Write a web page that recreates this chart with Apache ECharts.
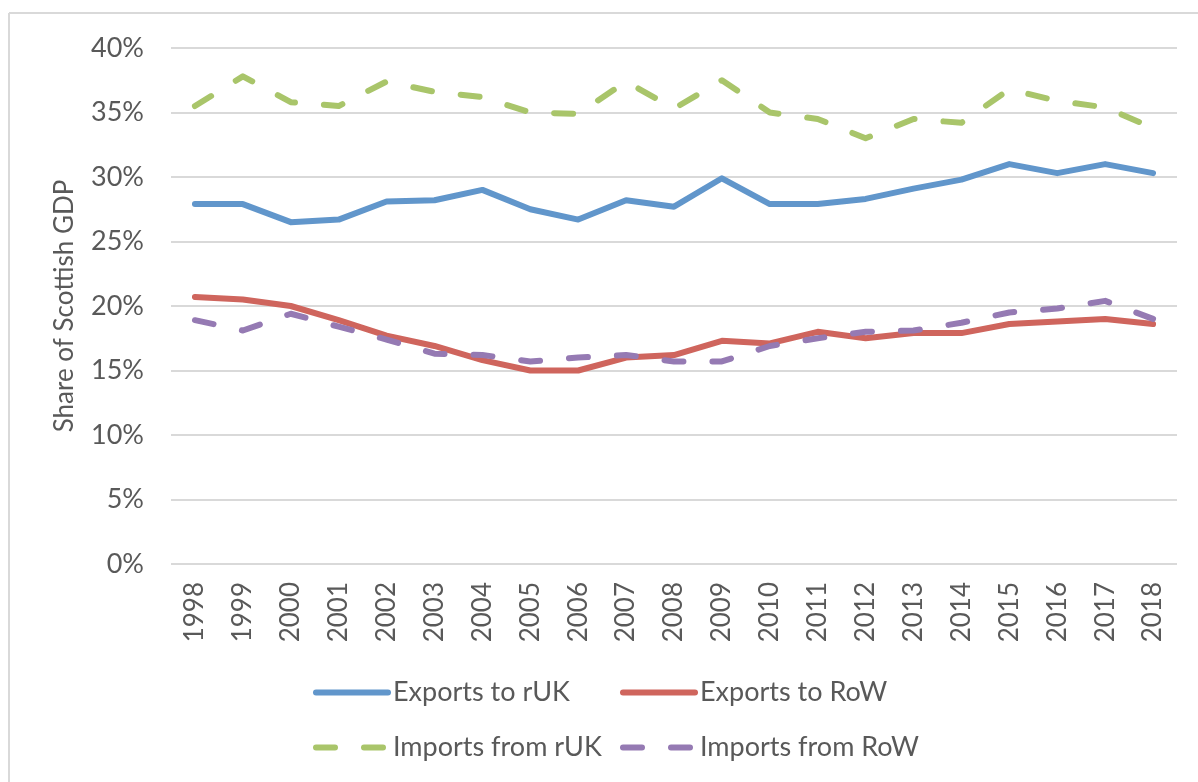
<!DOCTYPE html>
<html>
<head>
<meta charset="utf-8">
<script src="https://cdn.jsdelivr.net/npm/echarts@6/dist/echarts.min.js"></script>
<style>
html, body { margin: 0; padding: 0; background: #fff; }
#chart { width: 1198px; height: 782px; }
</style>
</head>
<body>
<div id="chart"></div>
<script>
var years = ['1998', '1999', '2000', '2001', '2002', '2003', '2004', '2005', '2006', '2007', '2008',
    '2009', '2010', '2011', '2012', '2013', '2014', '2015', '2016', '2017', '2018'];
var exportsRuk = [27.9, 27.9, 26.5, 26.7, 28.1, 28.2, 29.0, 27.5, 26.7, 28.2, 27.7,
    29.9, 27.9, 27.9, 28.3, 29.1, 29.8, 31.0, 30.3, 31.0, 30.3];
var exportsRow = [20.7, 20.5, 20.0, 18.9, 17.7, 16.9, 15.8, 15.0, 15.0, 16.0, 16.2,
    17.3, 17.1, 18.0, 17.5, 17.9, 17.9, 18.6, 18.8, 19.0, 18.6];
var importsRuk = [35.5, 37.8, 35.8, 35.5, 37.4, 36.6, 36.2, 35.0, 34.9, 37.4, 35.3,
    37.5, 35.0, 34.5, 33.0, 34.5, 34.2, 36.8, 35.9, 35.4, 33.8];
var importsRow = [18.9, 18.1, 19.4, 18.4, 17.4, 16.3, 16.2, 15.7, 16.0, 16.2, 15.7,
    15.7, 16.9, 17.5, 18.0, 18.1, 18.7, 19.5, 19.8, 20.4, 19.0];
var yTicks = [0, 5, 10, 15, 20, 25, 30, 35, 40];

var font = 'Lato';
var textColor = '#595959';

var myChart = echarts.init(document.getElementById('chart'));

function line(name, data, color, dashed) {
    return {
        name: name,
        type: 'line',
        data: data,
        symbol: 'none',
        smooth: false,
        lineStyle: {
            color: color,
            width: 6,
            cap: 'round',
            join: 'round',
            type: dashed ? [19, 29] : 'solid'
        },
        itemStyle: { color: color }
    };
}

function legendAt(name, left, top) {
    return {
        data: [name],
        left: left,
        top: top,
        itemWidth: 72,
        itemHeight: 6,
        itemGap: 0,
        padding: 0,
        itemStyle: { opacity: 0 },
        lineStyle: { width: 6, cap: 'round' },
        textStyle: { fontFamily: font, fontSize: 27, color: textColor, padding: [0, 0, 0, 0] }
    };
}

var option = {
    backgroundColor: '#fff',
    animation: false,
    graphic: [
        { type: 'line', shape: { x1: 9, y1: 13, x2: 1198, y2: 13 }, style: { stroke: '#d9d9d9', lineWidth: 2 } },
        { type: 'line', shape: { x1: 9, y1: 13, x2: 9, y2: 782 }, style: { stroke: '#d9d9d9', lineWidth: 2 } }
    ],
    grid: { left: 171, right: 21, top: 48, bottom: 218, containLabel: false },
    legend: [
        legendAt('Exports to rUK', 313, 679),
        legendAt('Exports to RoW', 620, 679),
        legendAt('Imports from rUK', 313, 734),
        legendAt('Imports from RoW', 620, 734)
    ],
    xAxis: {
        type: 'category',
        data: years,
        boundaryGap: true,
        axisLine: { show: false },
        axisTick: { show: false },
        axisLabel: {
            rotate: 90,
            margin: 18,
            interval: 0,
            fontFamily: font,
            fontSize: 26,
            color: textColor
        }
    },
    yAxis: {
        type: 'value',
        min: yTicks[0],
        max: yTicks[yTicks.length - 1],
        interval: 5,
        name: 'Share of Scottish GDP',
        nameLocation: 'middle',
        nameGap: 93,
        nameTextStyle: { fontFamily: font, fontSize: 26, color: textColor },
        axisLine: { show: false },
        axisTick: { show: false },
        axisLabel: {
            margin: 27,
            formatter: '{value}%',
            fontFamily: font,
            fontSize: 27,
            color: textColor
        },
        splitLine: { lineStyle: { color: '#d9d9d9', width: 2 } }
    },
    series: [
        line('Exports to rUK', exportsRuk, '#6196cb', false),
        line('Exports to RoW', exportsRow, '#cf655d', false),
        line('Imports from rUK', importsRuk, '#a9c56a', true),
        line('Imports from RoW', importsRow, '#957ab3', true)
    ]
};
myChart.setOption(option);
</script>
</body>
</html>
